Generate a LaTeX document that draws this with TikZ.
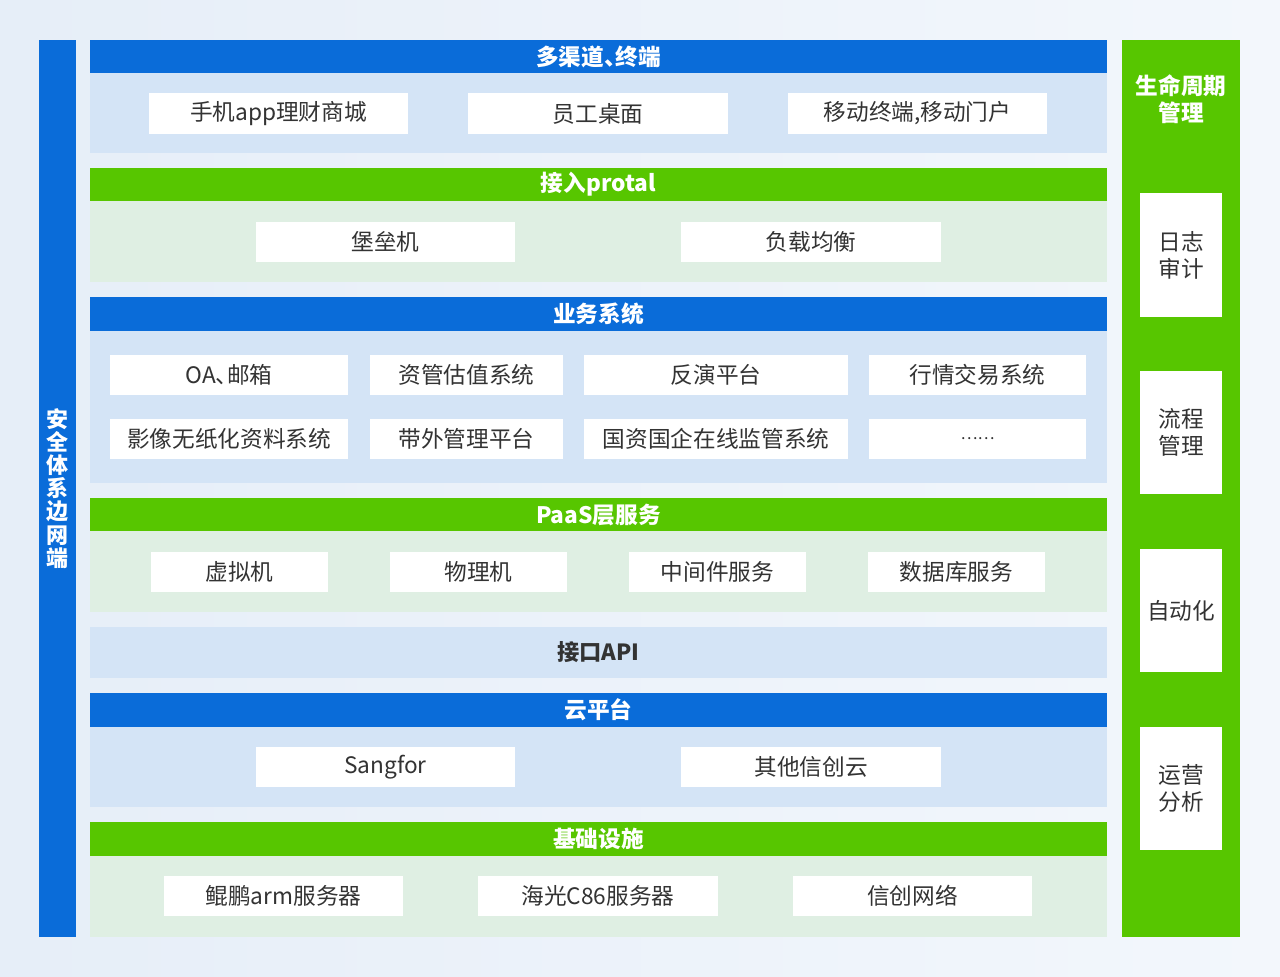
\documentclass[tikz,border=0pt]{standalone}
\usepackage{fontspec}
\setmainfont{Noto Sans CJK SC}
\definecolor{hblue}{HTML}{0A6CD9}
\definecolor{hgreen}{HTML}{57C600}
\definecolor{pblue}{HTML}{D4E4F6}
\definecolor{pgreen}{HTML}{DFEFE3}
\definecolor{bgA}{HTML}{E6EEF8}
\definecolor{bgB}{HTML}{F3F7FC}
\definecolor{txt}{HTML}{333333}
\tikzset{
  area/.style={inner sep=0pt, outer sep=0pt, draw=none},
  hbar/.style={area, text=white, font=\fontsize{17pt}{20pt}\selectfont\bfseries},
  bluehead/.style={hbar, fill=hblue},
  greenhead/.style={hbar, fill=hgreen},
  bpanel/.style={area, fill=pblue},
  gpanel/.style={area, fill=pgreen},
  wbox/.style={area, fill=white, text=txt, font=\fontsize{17pt}{20pt}\selectfont},
  sidebox/.style={area, fill=white, text=txt, align=center, font=\fontsize{17pt}{20.3pt}\selectfont},
}
\newcommand\rbox[7]{\node[#1, minimum width={(#5-#3)*0.75pt}, minimum height={(#6-#4)*0.75pt}] (#2) at ({(#3+#5)/2},{(#4+#6)/2}) {#7};}
\newcommand\dun{、\kern-0.5em}
\begin{document}
\begin{tikzpicture}[x=0.75pt,y=-0.75pt]
\useasboundingbox (0,0) rectangle (1280,976);
\shade[left color=bgA, right color=bgB] (0,0) rectangle (1280,976);
% left bar
\rbox{area, fill=hblue}{leftbar}{39}{40}{76}{937}{}
\node[text=white, align=center, font=\fontsize{16.5pt}{17.3pt}\selectfont\bfseries] (lefttxt) at (leftbar.center) {安\\全\\体\\系\\边\\网\\端};
% right bar
\rbox{area, fill=hgreen}{rightbar}{1122}{40}{1240}{937}{}
\node[text=white, align=center, font=\fontsize{17pt}{20.5pt}\selectfont\bfseries] (righttitle) at (1181,99) {生命周期\\管理};
\rbox{sidebox}{s1}{1140}{193}{1222}{317}{日志\\审计}
\rbox{sidebox}{s2}{1140}{371}{1222}{494}{流程\\管理}
\rbox{sidebox}{s3}{1140}{549}{1222}{672}{自动化}
\rbox{sidebox}{s4}{1140}{727}{1222}{850}{运营\\分析}
% row 1
\rbox{bpanel}{p1}{90}{73}{1107}{153}{}
\rbox{bluehead}{h1}{90}{40}{1107}{73}{多渠道\dun 终端}
\rbox{wbox}{b11}{149}{93}{408}{134}{手机app理财商城}
\rbox{wbox}{b12}{468}{93}{728}{134}{员工桌面}
\rbox{wbox}{b13}{788}{93}{1047}{134}{移动终端,移动门户}
% row 2
\rbox{gpanel}{p2}{90}{201}{1107}{282}{}
\rbox{greenhead}{h2}{90}{168}{1107}{201}{接入protal}
\rbox{wbox}{b21}{256}{222}{515}{262}{堡垒机}
\rbox{wbox}{b22}{681}{222}{941}{262}{负载均衡}
% row 3
\rbox{bpanel}{p3}{90}{331}{1107}{483}{}
\rbox{bluehead}{h3}{90}{297}{1107}{331}{业务系统}
\rbox{wbox}{b31}{110}{355}{348}{395}{OA\dun 邮箱}
\rbox{wbox}{b32}{370}{355}{563}{395}{资管估值系统}
\rbox{wbox}{b33}{584}{355}{848}{395}{反演平台}
\rbox{wbox}{b34}{869}{355}{1086}{395}{行情交易系统}
\rbox{wbox}{b35}{110}{419}{348}{459}{影像无纸化资料系统}
\rbox{wbox}{b36}{370}{419}{563}{459}{带外管理平台}
\rbox{wbox}{b37}{584}{419}{848}{459}{国资国企在线监管系统}
\rbox{wbox, font=\fontsize{12pt}{14pt}\selectfont}{b38}{869}{419}{1086}{459}{……}
% row 4
\rbox{gpanel}{p4}{90}{531}{1107}{612}{}
\rbox{greenhead}{h4}{90}{498}{1107}{531}{PaaS层服务}
\rbox{wbox}{b41}{151}{552}{328}{592}{虚拟机}
\rbox{wbox}{b42}{390}{552}{567}{592}{物理机}
\rbox{wbox}{b43}{629}{552}{806}{592}{中间件服务}
\rbox{wbox}{b44}{868}{552}{1045}{592}{数据库服务}
% API
\rbox{bpanel, text=txt, font=\fontsize{16.7pt}{20pt}\selectfont\bfseries}{api}{90}{627}{1107}{678}{接口API}
% row 6
\rbox{bpanel}{p6}{90}{727}{1107}{807}{}
\rbox{bluehead}{h6}{90}{693}{1107}{727}{云平台}
\rbox{wbox}{b61}{256}{747}{515}{787}{Sangfor}
\rbox{wbox}{b62}{681}{747}{941}{787}{其他信创云}
% row 7
\rbox{gpanel}{p7}{90}{856}{1107}{937}{}
\rbox{greenhead}{h7}{90}{822}{1107}{856}{基础设施}
\rbox{wbox}{b71}{164}{876}{403}{916}{鲲鹏arm服务器}
\rbox{wbox}{b72}{478}{876}{718}{916}{海光C86服务器}
\rbox{wbox}{b73}{793}{876}{1032}{916}{信创网络}
\end{tikzpicture}
\end{document}
